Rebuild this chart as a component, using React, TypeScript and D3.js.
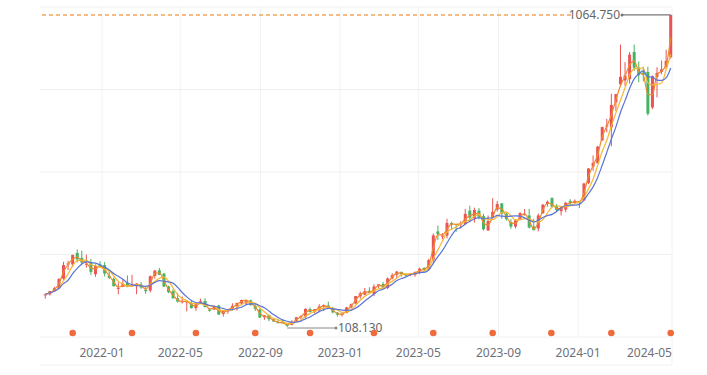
import * as d3 from "d3"
import React from "react"

// weekly candles, Monday of each week (NVDA, Oct 2021 - May 2024)
const weekStarts = d3
  .timeMonday.range(new Date(2021, 9, 4), new Date(2024, 4, 21))
  .map((d) => d3.timeFormat("%Y-%m-%d")(d))

const opens = [
  205, 208, 219, 227, 256, 300, 300, 335, 320, 300, 305, 270, 300,
  298, 265, 256, 225, 232, 243, 236, 233, 238, 222, 220, 265, 282, 272, 232, 218, 196,
  186, 184, 182, 166, 182, 188, 162, 162, 174, 148, 156, 165, 172, 180, 180, 190, 172, 162,
  138, 145, 132, 123, 125, 117, 115, 127, 138, 140, 163, 154, 159, 170, 174, 165, 152,
  148, 151, 168, 180, 202, 207, 219, 210, 233, 240, 228, 257, 268, 277, 268, 268, 268,
  278, 289, 285, 314, 401, 387, 388, 427, 424, 425, 424, 465, 441, 465, 448, 404, 444, 468,
  487, 455, 430, 416, 440, 452, 450, 416, 410, 457, 485, 503, 478, 463, 468, 494, 489,
  492, 496, 550, 600, 610, 680, 726, 720, 797, 852, 864, 868, 951, 903, 888, 890, 781, 875,
  890, 905, 935,
]
const highs = [
  210, 219, 231, 258, 308, 311, 330, 346, 342, 330, 317, 300, 310,
  307, 282, 260, 245, 256, 266, 268, 243, 246, 232, 266, 283, 289, 274, 235, 225, 212,
  202, 190, 188, 182, 195, 196, 166, 175, 176, 160, 163, 181, 182, 192, 191, 192, 180, 165,
  145, 145, 135, 132, 130, 120, 129, 139, 144, 165, 168, 162, 178, 178, 186, 170, 154,
  153, 170, 180, 203, 217, 228, 230, 239, 240, 246, 260, 273, 280, 278, 273, 274, 278,
  290, 292, 317, 395, 419, 396, 440, 431, 424, 432, 470, 480, 474, 473, 455, 450, 503, 494,
  488, 460, 439, 437, 460, 470, 470, 440, 456, 485, 496, 506, 485, 476, 492, 500, 499,
  495, 550, 595, 634, 663, 722, 746, 823, 823, 974, 920, 951, 974, 922, 906, 906, 879, 904,
  925, 958, 1064.75,
]
const lows = [
  195, 205, 217, 224, 253, 283, 292, 306, 300, 290, 268, 262, 290,
  263, 255, 233, 208, 230, 230, 232, 208.9, 225, 210, 214, 256, 267, 230, 212, 196, 183,
  180, 156, 165, 158, 180, 169, 155, 160, 146, 140, 149, 164, 158, 174, 175, 174, 157, 136,
  130, 126, 125, 119, 120, 108.13, 113, 124, 132, 136, 152, 150, 155, 157, 164, 150, 140,
  140, 150, 165, 178, 195, 205, 213, 203, 228, 225, 224, 254, 258, 262, 262, 264, 262,
  270, 278, 283, 302, 375, 377, 380, 408, 400, 410, 422, 429, 428, 438, 404, 403, 440, 462,
  440, 434, 409, 410, 436, 450, 410, 404, 401, 455, 477, 475, 460, 450, 460, 480, 487,
  473, 495, 546, 587, 610, 680, 705, 662, 770, 850, 847, 854, 893, 858, 861, 756, 776, 812,
  883, 899, 931,
]
const closes = [
  208, 218, 227, 255, 298, 303, 329, 315, 306, 302, 277, 296, 294,
  272, 259, 233, 228, 240, 232, 236, 241, 229, 218, 264, 281, 268, 232, 215, 196, 186,
  187, 187, 166, 178, 187, 169, 158, 172, 146, 158, 163, 173, 182, 191, 190, 175, 164, 137,
  144, 132, 125, 121, 120, 112, 124, 138, 141, 164, 154, 163, 171, 175, 166, 153, 146,
  148, 168, 178, 203, 211, 218, 213, 232, 239, 229, 257, 267, 278, 270, 267, 271, 277,
  287, 283, 313, 389, 393, 388, 427, 422, 423, 425, 455, 443, 467, 446, 408, 433, 461, 485,
  455, 439, 416, 435, 457, 454, 413, 405, 450, 483, 492, 477, 467, 475, 489, 488, 495,
  490, 548, 594, 611, 661, 721, 726, 789, 822, 875, 879, 943, 903, 880, 881, 762, 877, 887,
  898, 924, 1064.69,
]

// earnings days (dots under the candles)
const eventDates = [
  "2021-11-17", "2022-02-16", "2022-05-25", "2022-08-24", "2022-11-16", "2023-02-22",
  "2023-05-24", "2023-08-23", "2023-11-21", "2024-02-21", "2024-05-22",
]

const monthTicks = [
  "2022-01", "2022-05", "2022-09", "2023-01", "2023-05", "2023-09", "2024-01", "2024-05",
]

const maSpecs = [
  { n: 2, color: "#f0892e" },
  { n: 4, color: "#f7b733" },
  { n: 6, color: "#5b74d6" },
]

const W = 707
const H = 375
const x0 = 42
const x1 = 672
const y0 = 7
const y1 = 337
const font = "'Noto Sans', 'Open Sans', sans-serif"

const App = () => {
  const parse = d3.timeParse("%Y-%m-%d")
  const dates = weekStarts.map((s) => d3.timeDay.offset(parse(s), 2))

  const x = d3
    .scaleTime()
    .domain([parse("2021-10-01"), parse("2024-05-24")])
    .range([x0, x1])
  const y = d3.scaleLinear().domain([77.5, 1089]).range([y1, y0])

  const bodyW = 3

  const maxHigh = d3.max(highs)
  const iMax = highs.indexOf(maxHigh)
  const minLow = d3.min(lows)
  const iMin = lows.indexOf(minLow)
  const fmt = d3.format(".3f")

  const maLine = d3
    .line()
    .x((d) => x(d[0]))
    .y((d) => y(d[1]))
    .curve(d3.curveMonotoneX)

  const maPath = (n) => {
    const pts = closes.map((_, i) => {
      const win = closes.slice(Math.max(0, i - n + 1), i + 1)
      return [dates[i], d3.mean(win)]
    })
    return maLine(pts)
  }

  const hLines = d3.range(5).map((i) => y0 + (i * (y1 - y0)) / 4)
  const tickX = monthTicks.map((m) => x(parse(m + "-01")))

  const yMax = y(maxHigh)
  const yMin = y(minLow)
  const xMaxMark = x(dates[iMax])
  const xMinMark = x(dates[iMin])

  return (
    <svg
      width={W}
      height={H}
      style={{ position: "absolute", left: 0, top: 0, background: "#fff" }}
    >
      {/* grid */}
      {hLines.map((v, i) => (
        <line key={"h" + i} x1={x0 - 2} x2={x1} y1={v} y2={v} stroke="#f0f0f0" />
      ))}
      <line x1={x0 - 2} x2={x1} y1={365} y2={365} stroke="#f0f0f0" />
      {tickX.slice(0, -1).map((v, i) => (
        <line key={"v" + i} x1={v} x2={v} y1={y0} y2={y1} stroke="#f2f2f2" />
      ))}
      <line x1={x1} x2={x1} y1={y0} y2={365} stroke="#f2f2f2" />

      {/* candles */}
      {dates.map((d, i) => {
        const cx = x(d)
        const up = closes[i] >= opens[i]
        const c = up ? "#eb5454" : "#47b262"
        const top = y(Math.max(opens[i], closes[i]))
        const bot = y(Math.min(opens[i], closes[i]))
        return (
          <g key={i}>
            <line x1={cx} x2={cx} y1={y(highs[i])} y2={y(lows[i])} stroke={c} strokeWidth={1} />
            <rect
              x={cx - bodyW / 2}
              y={top}
              width={bodyW}
              height={Math.max(1, bot - top)}
              fill={c}
            />
          </g>
        )
      })}

      {/* moving averages */}
      {maSpecs.map((m) => (
        <path key={m.n} d={maPath(m.n)} fill="none" stroke={m.color} strokeWidth={1.2} />
      ))}

      {/* max mark */}
      <line
        x1={x0}
        x2={572}
        y1={yMax}
        y2={yMax}
        stroke="#f4a460"
        strokeWidth={1.5}
        strokeDasharray="4 3"
      />
      <text
        x={620}
        y={yMax + 4}
        textAnchor="end"
        fontFamily={font}
        fontSize={12}
        fill="#666"
      >
        {fmt(maxHigh)}
      </text>
      <line x1={622} x2={xMaxMark} y1={yMax} y2={yMax} stroke="#777" strokeWidth={1.2} />
      <circle cx={622} cy={yMax} r={1.5} fill="#777" />

      {/* min mark */}
      <line x1={xMinMark} x2={336} y1={yMin + 1} y2={yMin + 1} stroke="#888" strokeWidth={1} />
      <circle cx={336} cy={yMin + 1} r={1.5} fill="#888" />
      <text x={338} y={yMin + 5} fontFamily={font} fontSize={12} fill="#666">
        {fmt(minLow)}
      </text>

      {/* event dots */}
      {eventDates.map((s) => (
        <circle key={s} cx={x(parse(s))} cy={333} r={3.3} fill="#f06a3c" />
      ))}

      {/* x labels */}
      {monthTicks.map((m, i) => {
        const last = i === monthTicks.length - 1
        return (
          <text
            key={m}
            x={last ? x1 : tickX[i]}
            y={357}
            textAnchor={last ? "end" : "middle"}
            fontFamily={font}
            fontSize={12}
            fill="#6e7079"
          >
            {m}
          </text>
        )
      })}
    </svg>
  )
}

export default App
